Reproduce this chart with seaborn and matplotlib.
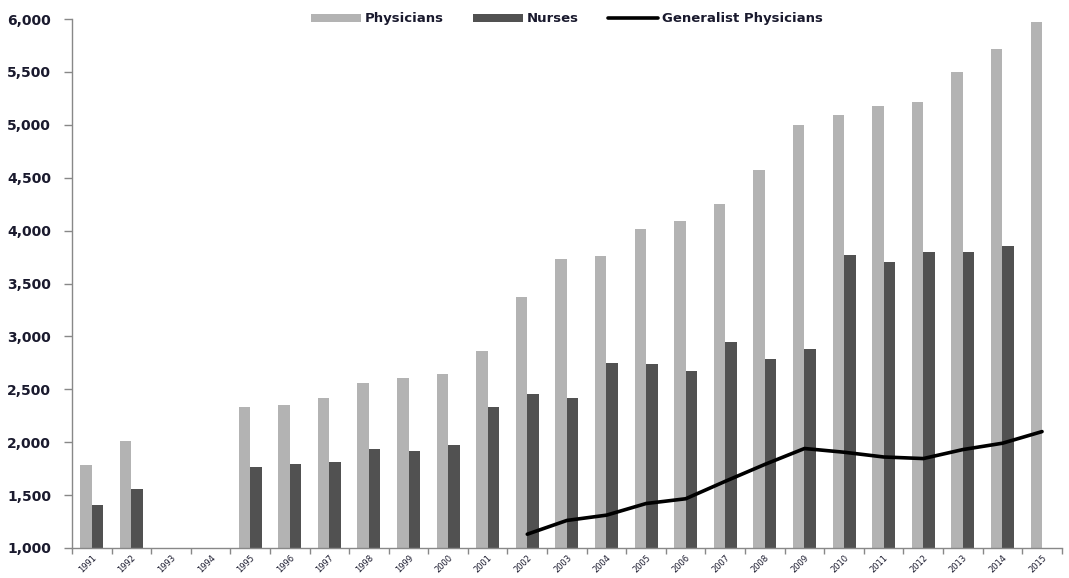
import numpy as np
import pandas as pd
import matplotlib
matplotlib.use('Agg')
import matplotlib.pyplot as plt
from matplotlib.ticker import FuncFormatter, FixedLocator
import seaborn as sns

years = [str(y) for y in range(1991, 2016)]
physicians = [1785, 2010, np.nan, np.nan, 2330, 2350, 2420, 2560, 2605, 2640,
              2865, 3370, 3735, 3760, 4020, 4090, 4250, 4570, 5000, 5090,
              5180, 5220, 5500, 5720, 5970]
nurses = [1410, 1555, np.nan, np.nan, 1765, 1790, 1810, 1935, 1920, 1975,
          2330, 2455, 2420, 2750, 2740, 2670, 2945, 2790, 2880, 3770,
          3700, 3800, 3800, 3850, np.nan]
generalist_years = [str(y) for y in range(2002, 2016)]
generalist = [1130, 1260, 1310, 1420, 1465, 1630, 1790, 1940, 1905, 1860,
              1845, 1930, 1990, 2100]

sns.set_theme(style='white')
plt.rcParams['font.family'] = ['DejaVu Sans']

df = pd.DataFrame({'year': years * 2,
                   'value': physicians + nurses,
                   'series': ['Physicians'] * len(years) + ['Nurses'] * len(years)})
df = df.dropna()

fig = plt.figure(figsize=(10.69, 5.78), dpi=100)
ax = fig.add_axes([0.0673, 0.052, 0.926, 0.915])

sns.barplot(data=df, x='year', y='value', hue='series', order=years,
            hue_order=['Physicians', 'Nurses'],
            palette={'Physicians': '#b3b3b3', 'Nurses': '#515151'},
            width=0.58, gap=0, saturation=1, linewidth=0, ax=ax, errorbar=None)

gen_pos = [years.index(y) for y in generalist_years]
sns.lineplot(x=gen_pos, y=generalist, color='black', linewidth=2.6, ax=ax,
             label='Generalist Physicians')

ax.set_xlim(-0.5, len(years) - 0.5)
ax.set_ylim(1000, 6000)
ax.set_yticks(range(1000, 6001, 500))
ax.yaxis.set_major_formatter(FuncFormatter(lambda v, p: f'{int(v):,}'))
ax.tick_params(axis='y', labelsize=10, labelcolor='#1a1a2e', length=6,
               width=1, color='#888888', left=True, direction='out', pad=9)
for t in ax.get_yticklabels():
    t.set_fontweight('semibold')
ax.set_xticks(range(len(years)))
ax.set_xticklabels(years, rotation=45, fontsize=6, ha='right',
                   rotation_mode='anchor')
ax.tick_params(axis='x', length=0, pad=4, labelcolor='#1a1a2e')
ax.xaxis.set_minor_locator(FixedLocator(np.arange(-0.5, len(years), 1.0)))
ax.tick_params(axis='x', which='minor', length=4, width=1, color='#888888',
               bottom=True, direction='out')
ax.set_xlabel('')
ax.set_ylabel('')
for s in ['top', 'right']:
    ax.spines[s].set_visible(False)
for s in ['left', 'bottom']:
    ax.spines[s].set_color('#888888')
    ax.spines[s].set_linewidth(1)

handles, labels = ax.get_legend_handles_labels()
ax.legend(handles, labels, loc='upper center', bbox_to_anchor=(0.5, 1.035),
          ncol=3, frameon=False, prop={'size': 9.5, 'weight': 'bold'},
          handlelength=3.8, handletextpad=0.3, columnspacing=2.2,
          handleheight=0.6, labelcolor='#1a1a2e')

fig.savefig('out.png', dpi=100)
